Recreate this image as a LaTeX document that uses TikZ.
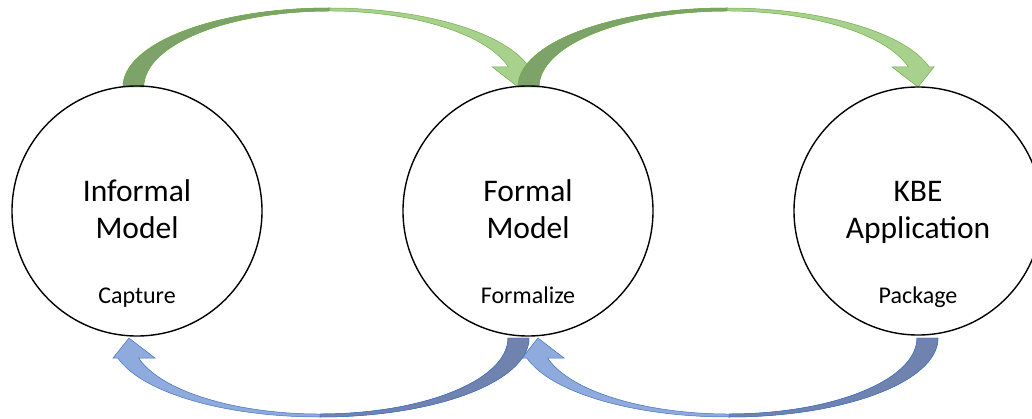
\documentclass[tikz,border=0pt]{standalone}
\usepackage{fontspec}
\setmainfont{Carlito}
\definecolor{gL}{HTML}{A9D18E}
\definecolor{gD}{HTML}{7EA36A}
\definecolor{gO}{HTML}{70AD47}
\definecolor{bL}{HTML}{8FAADC}
\definecolor{bD}{HTML}{6F83AE}
\definecolor{bO}{HTML}{4472C4}
\tikzset{
  circ/.style={circle, draw=black, line width=1.4pt, minimum size=250pt, inner sep=0pt},
  bigtext/.style={anchor=base, font=\fontsize{31.5}{37}\selectfont, inner sep=0pt},
  smalltext/.style={anchor=base, font=\fontsize{24}{28}\selectfont, inner sep=0pt},
  pics/bandarrow/.style n args={3}{code={
    \filldraw[fill=#1, draw=#3, line width=0.5pt]
      (0,0) arc[start angle=180, end angle=14.67, x radius=209, y radius=79]
      -- (416,20) -- (400,0) -- (374,20) -- (390.4,20)
      arc[start angle=15.26, end angle=180, x radius=188, y radius=76] -- cycle;
    \filldraw[fill=#2, draw=#3, line width=0.5pt]
      (0,0) arc[start angle=180, end angle=90, x radius=209, y radius=79]
      -- (209,76) arc[start angle=90, end angle=180, x radius=188, y radius=76] -- cycle;
  }}
}
\begin{document}
\begin{tikzpicture}[x=1pt, y=1pt]
  \useasboundingbox (0,0) rectangle (1032,418);
  \clip (0,0) rectangle (1032,418);
  % curved arrows
  \pic[xscale=0.9875] at (123,331) {bandarrow={gL}{gD}{gO}};
  \pic at (518,331) {bandarrow={gL}{gD}{gO}};
  \pic[xscale=-1, yscale=-1] at (938,80) {bandarrow={bL}{bD}{bO}};
  \pic[xscale=-1, yscale=-1] at (529,80) {bandarrow={bL}{bD}{bO}};
  % circles
  \node[circ] (c1) at (137,207) {};
  \node[circ] (c2) at (528,207) {};
  \node[circ, minimum size=248pt] (c3) at (918,207) {};
  % texts
  \node[bigtext] (t1a) at (137,216) {Informal};
  \node[bigtext] (t1b) at (137,179) {Model};
  \node[smalltext] (t1c) at (137,115) {Capture};
  \node[bigtext] (t2a) at (528,216) {Formal};
  \node[bigtext] (t2b) at (528,179) {Model};
  \node[smalltext] (t2c) at (528,115) {Formalize};
  \node[bigtext] (t3a) at (918,216) {KBE};
  \node[bigtext] (t3b) at (918,179) {Application};
  \node[smalltext] (t3c) at (918,115) {Package};
\end{tikzpicture}
\end{document}
